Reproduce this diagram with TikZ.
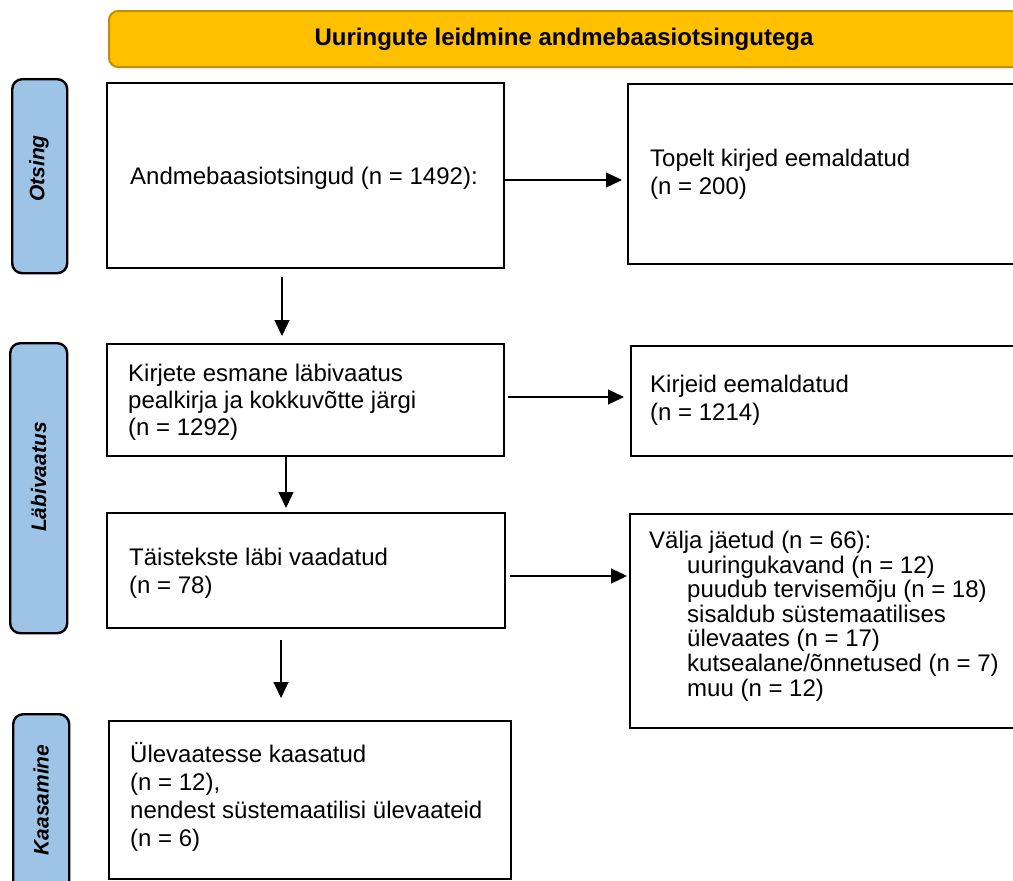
\documentclass[tikz,border=0pt]{standalone}
\usepackage{fontspec}
\setmainfont{Liberation Sans}
\usetikzlibrary{arrows.meta}
\definecolor{bannerfill}{HTML}{FFC000}
\definecolor{bannerdraw}{HTML}{C09000}
\definecolor{tabfill}{HTML}{9DC3E6}
\begin{document}
\begin{tikzpicture}[x=1pt,y=-1pt,
  box/.style={draw=black,line width=2pt,rectangle,anchor=north west,inner sep=0pt},
  txt/.style={anchor=west,align=left,inner sep=0pt,font=\fontsize{24}{28}\selectfont},
  tab/.style={draw=black,line width=2.4pt,fill=tabfill,rounded corners=10pt,anchor=north west,inner sep=0pt},
  tabtext/.style={rotate=90,inner sep=0pt,font=\fontsize{21}{24}\selectfont\bfseries\itshape},
  conn/.style={line width=1.3pt,-{Triangle[length=16pt,width=15pt]}}
]
\useasboundingbox (0,0) rectangle (1013,881);
\clip (0,0) rectangle (1013,881);
\fill[white] (0,0) rectangle (1013,881);

% banner
\node[draw=bannerdraw,line width=2pt,fill=bannerfill,rounded corners=9pt,anchor=north west,
  minimum width=912pt,minimum height=56pt,inner sep=0pt] (banner) at (108,10) {};
\node[font=\fontsize{24}{28}\selectfont\bfseries] (bannertext) at (564,39) {Uuringute leidmine andmebaasiotsingutega};

% side tabs
\node[tab,minimum width=55pt,minimum height=194pt] (t1) at (11,78) {};
\node[tabtext] (t1text) at (39,168.5) {Otsing};
\node[tab,minimum width=57pt,minimum height=290pt] (t2) at (9,342) {};
\node[tabtext] (t2text) at (38.5,477) {Läbivaatus};
\node[tab,minimum width=56pt,minimum height=200pt] (t3) at (12,713) {};
\node[tabtext] (t3text) at (41,800) {Kaasamine};

% left column boxes
\node[box,minimum width=397pt,minimum height=185pt] (b1) at (106,82) {};
\node[txt] (b1t) at (130,178) {Andmebaasiotsingud (n = 1492):};
\node[box,minimum width=397pt,minimum height=112pt] (b2) at (106,343) {};
\node[txt,font=\fontsize{24}{27}\selectfont] (b2t) at (128,402)
  {Kirjete esmane läbivaatus\\pealkirja ja kokkuvõtte järgi\\(n = 1292)};
\node[box,minimum width=398pt,minimum height=115pt] (b3) at (106,512) {};
\node[txt] (b3t) at (129,573.5) {Täistekste läbi vaadatud\\(n = 78)};
\node[box,minimum width=402pt,minimum height=158pt] (b4) at (108,720) {};
\node[txt] (b4t) at (130,797)
  {Ülevaatesse kaasatud\\(n = 12),\\nendest süstemaatilisi ülevaateid\\(n = 6)};

% right column boxes
\node[box,minimum width=393pt,minimum height=180pt] (r1) at (627,83) {};
\node[txt] (r1t) at (650,174) {Topelt kirjed eemaldatud\\(n = 200)};
\node[box,minimum width=390pt,minimum height=110pt] (r2) at (630,345) {};
\node[txt] (r2t) at (650,400) {Kirjeid eemaldatud\\(n = 1214)};
\node[box,minimum width=391pt,minimum height=214pt] (r3) at (629,513) {};
\node[txt,font=\fontsize{24}{24.6}\selectfont] (r3t) at (649,616)
  {Välja jäetud (n = 66):\\
   \hspace*{38pt}uuringukavand (n = 12)\\
   \hspace*{38pt}puudub tervisemõju (n = 18)\\
   \hspace*{38pt}sisaldub süstemaatilises\\
   \hspace*{38pt}ülevaates (n = 17)\\
   \hspace*{38pt}kutsealane/õnnetused (n = 7)\\
   \hspace*{38pt}muu (n = 12)};

% horizontal connectors
\coordinate (h1s) at (504,180); \coordinate (h1e) at (622,180);
\coordinate (h2s) at (508,397); \coordinate (h2e) at (624,397);
\coordinate (h3s) at (510,576); \coordinate (h3e) at (627,576);
\draw[conn] (h1s) -- (h1e);
\draw[conn] (h2s) -- (h2e);
\draw[conn] (h3s) -- (h3e);

% vertical connectors
\coordinate (v1s) at (282,277); \coordinate (v1e) at (282,336);
\coordinate (v2s) at (286,457); \coordinate (v2e) at (286,508);
\coordinate (v3s) at (281,640); \coordinate (v3e) at (281,698);
\draw[conn] (v1s) -- (v1e);
\draw[conn] (v2s) -- (v2e);
\draw[conn] (v3s) -- (v3e);
\end{tikzpicture}
\end{document}
